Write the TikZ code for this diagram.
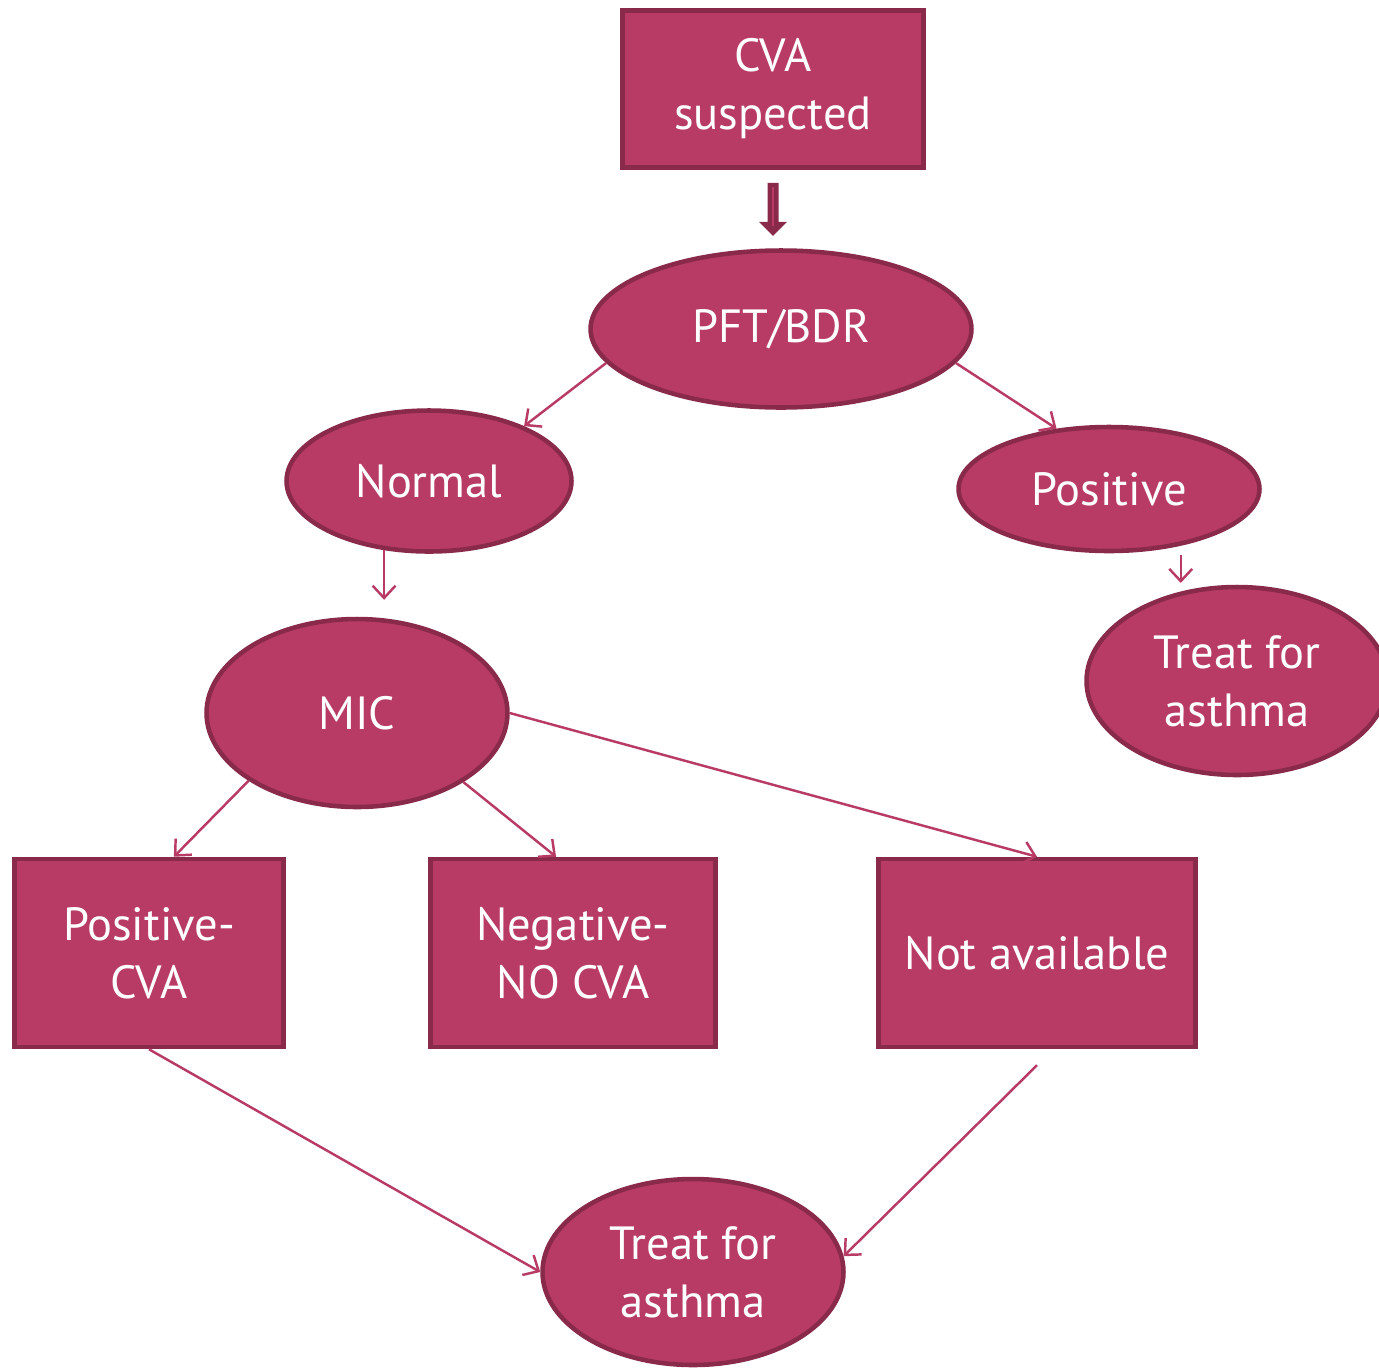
\documentclass[tikz,border=0pt]{standalone}
\usepackage{fontspec}
\setmainfont{PT Sans}
\usetikzlibrary{shapes.geometric,arrows.meta,calc}
\definecolor{fillc}{HTML}{B83B66}
\definecolor{edgec}{HTML}{8A2A4B}
\tikzset{
  base/.style={draw=edgec, fill=fillc, line width=2.6pt, text=white, align=center,
    font=\fontsize{26.5}{33}\selectfont, inner sep=0pt},
  boxnode/.style={base, rectangle},
  ellnode/.style={base, ellipse},
  arr/.style={draw=fillc, line width=1.4pt, -{Straight Barb[length=7pt,width=13pt]}},
}
\begin{document}
\begin{tikzpicture}[x=0.02cm, y=-0.02cm]
\useasboundingbox (0,0) rectangle (1379,1370);
\node[boxnode, minimum width=6.02cm, minimum height=3.14cm] (cva) at (773,89) {CVA\\suspected};
\node[ellnode, minimum width=7.62cm, minimum height=3.14cm] (pft) at (781,329) {PFT/BDR};
\node[ellnode, minimum width=5.7cm, minimum height=2.82cm] (normal) at (429,481) {Normal};
\node[ellnode, minimum width=6.02cm, minimum height=2.48cm] (pos) at (1109,489) {Positive};
\node[ellnode, minimum width=6.02cm, minimum height=3.76cm] (treatR) at (1237,681) {Treat for\\asthma};
\node[ellnode, minimum width=6.02cm, minimum height=3.76cm] (mic) at (357,713) {MIC};
\node[boxnode, minimum width=5.38cm, minimum height=3.76cm] (poscva) at (149,953) {Positive-\\CVA};
\node[boxnode, minimum width=5.7cm, minimum height=3.76cm] (neg) at (573,953) {Negative-\\NO CVA};
\node[boxnode, minimum width=6.34cm, minimum height=3.76cm] (na) at (1037,953) {Not available};
\node[ellnode, minimum width=6.02cm, minimum height=3.72cm] (treatB) at (693,1272) {Treat for\\asthma};

% block arrow
\begin{scope}[shift={(cva.south)}]
\fill[edgec] (-5.5,13) -- (5.5,13) -- (5.5,52) -- (14,52) -- (0,66) -- (-14,52) -- (-5.5,52) -- cycle;
\draw[fillc, line width=1.6pt] (0,17) -- (0,56);
\end{scope}

\draw[arr] (pft.191) -- (normal.30);
\draw[arr] (pft.349) -- (pos.131);
\draw[arr, shorten >=17pt*0.567] (normal.237) -- (normal.237 |- mic.north);
\draw[arr, shorten <=1pt, shorten >=1pt] ([xshift=72*0.567pt]pos.south) -- ([xshift=72*0.567pt]pos.south |- treatR.north);
\draw[arr] (mic.212.5) -- ([xshift=25*0.567pt]poscva.north);
\draw[arr] (mic.327.3) -- ([xshift=-17*0.567pt]neg.north);
\draw[arr] (mic.east) -- (na.north);
\draw[arr] (poscva.south) -- (treatB.west);
\draw[arr] ([yshift=-16*0.567pt]na.south) -- (treatB.6);
\end{tikzpicture}
\end{document}
